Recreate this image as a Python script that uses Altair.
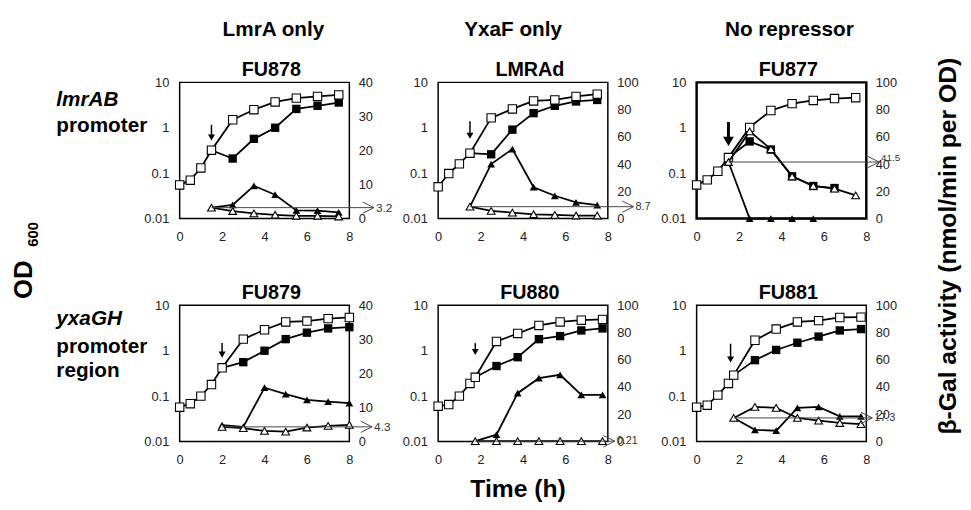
import altair as alt
import pandas as pd

FONT = "Liberation Sans"

# ---------------- labels ----------------
CONDITIONS = ["LmrA only", "YxaF only", "No repressor"]
STRAINS = ["FU878", "LMRAd", "FU877", "FU879", "FU880", "FU881"]
ROW1_LABEL = ["lmrAB", "promoter"]
ROW2_LABEL = ["yxaGH", "promoter", "region"]
X_TICKS = [0, 2, 4, 6, 8]
OD_TICKS = [0.01, 0.1, 1, 10]
GAL_TICKS_40 = [0, 10, 20, 30, 40]
GAL_TICKS_100 = [0, 20, 40, 60, 80, 100]

# ---------------- FU878 ----------------
FU878_T = [0, 0.5, 1, 1.5, 2.5, 3.5, 4.5, 5.5, 6.5, 7.5]
FU878_OD_OPEN = [0.055, 0.07, 0.13, 0.32, 1.5, 2.5, 3.7, 4.5, 4.9, 5.3]
FU878_T_IND = [1.5, 2.5, 3.5, 4.5, 5.5, 6.5, 7.5]
FU878_OD_FILLED = [0.32, 0.21, 0.57, 1.0, 2.6, 3.05, 3.6]
FU878_GAL_FILLED = [3.2, 4.0, 9.6, 7.0, 2.4, 2.3, 1.8]
FU878_GAL_OPEN = [3.2, 2.2, 1.5, 1.1, 0.8, 0.8, 0.6]
FU878_ARROW = [1.5, 1.16, 0.61]
FU878_REF = [1.5, 3.2]

# ---------------- LMRAd ----------------
LMRAD_T = [0, 0.5, 1, 1.5, 2.5, 3.5, 4.5, 5.5, 6.5, 7.5]
LMRAD_OD_OPEN = [0.05, 0.098, 0.16, 0.275, 1.65, 2.6, 3.9, 4.1, 4.9, 5.5]
LMRAD_T_IND = [1.5, 2.5, 3.5, 4.5, 5.5, 6.5, 7.5]
LMRAD_OD_FILLED = [0.275, 0.26, 0.91, 2.1, 3.05, 3.8, 4.1]
LMRAD_GAL_FILLED = [8.7, 40, 51, 23, 16.7, 11.8, 9.9]
LMRAD_GAL_OPEN = [8.7, 5.6, 4.3, 3.1, 2.7, 2.2, 2.2]
LMRAD_ARROW = [1.5, 1.4, 0.67]
LMRAD_REF = [1.5, 8.7]

# ---------------- FU877 ----------------
FU877_T = [0, 0.5, 1, 1.5, 2.5, 3.5, 4.5, 5.5, 6.5, 7.5]
FU877_OD_OPEN = [0.055, 0.071, 0.11, 0.22, 1.02, 2.4, 3.4, 4.0, 4.4, 4.6]
FU877_T_ODF = [1.5, 2.5, 3.5, 4.5, 5.5, 6.5]
FU877_OD_FILLED = [0.22, 0.5, 0.33, 0.085, 0.052, 0.047]
FU877_T_GF = [1.5, 2.5, 3.5, 4.5, 5.5]
FU877_GAL_FILLED = [41.5, 0, 0, 0, 0]
FU877_T_GO = [1.5, 2.5, 3.5, 4.5, 5.5, 6.5, 7.5]
FU877_GAL_OPEN = [41.5, 64, 51, 31, 24, 22, 17]
FU877_ARROW = [1.5, 1.34, 0.5]
FU877_REF = [1.5, 41.5]

# ---------------- FU879 ----------------
FU879_T = [0, 0.5, 1, 1.5, 2, 3, 4, 5, 6, 7, 8]
FU879_OD_OPEN = [0.057, 0.068, 0.10, 0.18, 0.42, 1.8, 2.9, 4.3, 4.5, 5.1, 5.4]
FU879_T_IND = [2, 3, 4, 5, 6, 7, 8]
FU879_OD_FILLED = [0.42, 0.56, 1.0, 1.8, 2.5, 3.1, 3.3]
FU879_GAL_FILLED = [4.8, 4.3, 15.8, 13.9, 12.2, 11.7, 11.3]
FU879_GAL_OPEN = [4.3, 3.9, 3.1, 2.9, 4.1, 4.6, 4.9]
FU879_ARROW = [2, 1.48, 0.82]
FU879_REF = [2, 4.3]

# ---------------- FU880 ----------------
FU880_T = [0, 0.5, 1, 1.5, 1.75, 2.75, 3.75, 4.75, 5.75, 6.75, 7.75]
FU880_OD_OPEN = [0.06, 0.065, 0.10, 0.19, 0.26, 1.6, 2.4, 3.6, 4.3, 4.7, 4.9]
FU880_T_IND = [1.75, 2.75, 3.75, 4.75, 5.75, 6.75, 7.75]
FU880_OD_FILLED = [0.26, 0.46, 0.72, 1.8, 2.1, 2.8, 3.1]
FU880_GAL_FILLED = [0.21, 5, 35.5, 46.5, 49, 34.3, 34.3]
FU880_GAL_OPEN = [0.21, 0.21, 0.21, 0.21, 0.21, 0.21, 0.21]
FU880_ARROW = [1.75, 1.47, 0.94]
FU880_REF = [1.75, 0.21]

# ---------------- FU881 ----------------
FU881_T = [0, 0.5, 1, 1.5, 1.75, 2.75, 3.75, 4.75, 5.75, 6.75, 7.75]
FU881_OD_OPEN = [0.057, 0.063, 0.105, 0.19, 0.29, 1.7, 3.0, 4.3, 4.6, 5.4, 5.5]
FU881_T_IND = [1.75, 2.75, 3.75, 4.75, 5.75, 6.75, 7.75]
FU881_OD_FILLED = [0.29, 0.62, 1.04, 1.5, 2.05, 2.8, 3.0]
FU881_GAL_FILLED = [17.3, 8.6, 7.9, 24.7, 25.4, 18.5, 18.5]
FU881_GAL_OPEN = [17.3, 25.4, 24.7, 17.3, 15.3, 13.6, 12.8]
FU881_ARROW = [1.6, 1.43, 0.64]
FU881_REF = [1.75, 17.3]

# ---------------- style ----------------
W, H = 172, 138
XS = alt.Scale(domain=[0, 8], nice=False, zero=False)
XA = alt.Axis(values=X_TICKS, title=None, labelPadding=12, labelFlush=False, labelOverlap=False)
LOGS = alt.Scale(type="log", domain=[0.01, 10], nice=False)
LOGA = alt.Axis(values=OD_TICKS, format="~g", orient="left", title=None, labelPadding=11,
                labelFlush=False, labelOverlap=False)
LW = 1.8
SQ = 72
TRI = 62


def X(field="t"):
    return alt.X(f"{field}:Q", scale=XS, axis=XA)


def txt(text, x, y, size, weight="bold", style="normal", angle=0, align="center",
        baseline="alphabetic", color="black"):
    return alt.Chart(alt.Data(values=[{"a": 1}])).mark_text(
        text=text, font=FONT, fontSize=size, fontWeight=weight, fontStyle=style,
        angle=angle, align=align, baseline=baseline, color=color
    ).encode(x=alt.value(x), y=alt.value(y))


def panel(t, od_open, t_odf, od_filled, t_gf, gal_filled, t_go, gal_open, gal_ticks,
          arrow, ref, ref_end, extras, heavy=False, ref_size=12, ref_dy=0):
    gmax = gal_ticks[-1]
    GS = alt.Scale(domain=[0, gmax], nice=False, zero=True)
    GA = alt.Axis(values=gal_ticks, orient="right", title=None, labelPadding=9,
                  labelFlush=False, labelOverlap=False)

    od_df = pd.DataFrame({"t": t + t_odf, "v": od_open + od_filled,
                          "s": ["open"] * len(t) + ["filled"] * len(t_odf)})
    ybase = alt.Y("v:Q", scale=LOGS, axis=LOGA)
    base = alt.Chart(od_df).encode(x=X(), y=ybase)
    od_lines = base.mark_line(color="black", strokeWidth=LW).encode(detail="s:N")
    od_filled_pts = base.transform_filter("datum.s == 'filled'").mark_point(
        shape="square", filled=True, color="black", size=SQ, opacity=1)
    od_open_pts = base.transform_filter("datum.s == 'open'").mark_point(
        shape="square", filled=True, fill="white", stroke="black", strokeWidth=1.1,
        size=SQ, opacity=1)

    arrow_df = pd.DataFrame({"t": [arrow[0]], "top": [arrow[1]], "head": [arrow[2]]})
    arrow_rule = alt.Chart(arrow_df).mark_rule(
        color="black", strokeWidth=3 if heavy else 1.5
    ).encode(x=X(), y=alt.Y("top:Q", scale=LOGS, axis=LOGA), y2="head:Q")
    arrow_head = alt.Chart(arrow_df).mark_point(
        shape="triangle-down", filled=True, color="black", size=120 if heavy else 50, opacity=1
    ).encode(x=X(), y=alt.Y("head:Q", scale=LOGS, axis=LOGA))

    left = alt.layer(od_lines, od_filled_pts, od_open_pts, arrow_rule, arrow_head)

    gal_df = pd.DataFrame({"t": t_gf + t_go, "v": gal_filled + gal_open,
                           "s": ["filled"] * len(t_gf) + ["open"] * len(t_go)})
    gbase = alt.Chart(gal_df).encode(x=X(), y=alt.Y("v:Q", scale=GS, axis=GA))
    g_lines = gbase.mark_line(color="black", strokeWidth=LW).encode(detail="s:N")
    g_filled = gbase.transform_filter("datum.s == 'filled'").mark_point(
        shape="triangle-up", filled=True, color="black", size=TRI, opacity=1)
    g_open = gbase.transform_filter("datum.s == 'open'").mark_point(
        shape="triangle-up", filled=True, fill="white", stroke="black", strokeWidth=1.1,
        size=TRI, opacity=1)

    ref_df = pd.DataFrame({"t": [ref[0]], "v": [ref[1]], "lab": [f"{ref[1]:g}"]})
    ref_rule = alt.Chart(ref_df).mark_rule(color="#444", strokeWidth=1).encode(
        x=X(), x2=alt.value(W + ref_end), y=alt.Y("v:Q", scale=GS, axis=GA))
    ref_head = alt.Chart(ref_df).mark_point(
        shape="M-2,-1L0,0L-2,1", filled=False, stroke="#444", strokeWidth=1, size=130, opacity=1
    ).encode(x=alt.value(W + ref_end), y=alt.Y("v:Q", scale=GS, axis=GA))
    ref_lab = alt.Chart(ref_df).mark_text(
        font=FONT, fontSize=ref_size, align="left", baseline="middle", color="#333", dy=ref_dy
    ).encode(x=alt.value(W + ref_end + 2), y=alt.Y("v:Q", scale=GS, axis=GA), text="lab:N")

    right = alt.layer(g_lines, g_filled, g_open, ref_rule, ref_head, ref_lab)

    ch = alt.layer(left, right, *extras).resolve_scale(y="independent").properties(
        width=W, height=H)
    if heavy:
        ch = ch.properties(view=alt.ViewBackground(stroke="black", strokeWidth=2.5))
    return ch


anchor = alt.Chart(alt.Data(values=[{"a": 1}])).mark_rule(opacity=0, color="white").encode(
    x=alt.value(-173), x2=alt.value(-172), y=alt.value(-71))

p1 = panel(FU878_T, FU878_OD_OPEN, FU878_T_IND, FU878_OD_FILLED, FU878_T_IND, FU878_GAL_FILLED,
           FU878_T_IND, FU878_GAL_OPEN, GAL_TICKS_40, FU878_ARROW, FU878_REF, 25,
           [anchor,
            txt(CONDITIONS[0], 95, -47, 21),
            txt(STRAINS[0], 93, -6, 20),
            txt(ROW1_LABEL[0], -125, 24, 21, style="italic", align="left"),
            txt(ROW1_LABEL[1], -125, 50, 21, align="left"),
            txt("OD", -158, 200, 26, angle=270, baseline="middle"),
            txt("600", -149, 154, 15, angle=270, baseline="middle")])

p2 = panel(LMRAD_T, LMRAD_OD_OPEN, LMRAD_T_IND, LMRAD_OD_FILLED, LMRAD_T_IND, LMRAD_GAL_FILLED,
           LMRAD_T_IND, LMRAD_GAL_OPEN, GAL_TICKS_100, LMRAD_ARROW, LMRAD_REF, 26,
           [txt(CONDITIONS[1], 76, -47, 21),
            txt(STRAINS[1], 93, -6, 20)], ref_size=11)

p3 = panel(FU877_T, FU877_OD_OPEN, FU877_T_ODF, FU877_OD_FILLED, FU877_T_GF, FU877_GAL_FILLED,
           FU877_T_GO, FU877_GAL_OPEN, GAL_TICKS_100, FU877_ARROW, FU877_REF, 13,
           [txt(CONDITIONS[2], 94, -47, 21),
            txt(STRAINS[2], 93, -6, 20),
            txt("\u03b2-Gal activity (nmol/min per OD)", 255, 166, 25, angle=270,
                baseline="middle")],
           heavy=True, ref_size=10, ref_dy=-4)

p4 = panel(FU879_T, FU879_OD_OPEN, FU879_T_IND, FU879_OD_FILLED, FU879_T_IND, FU879_GAL_FILLED,
           FU879_T_IND, FU879_GAL_OPEN, GAL_TICKS_40, FU879_ARROW, FU879_REF, 23,
           [txt(STRAINS[3], 93, -6, 20),
            txt(ROW2_LABEL[0], -125, 20, 21, style="italic", align="left"),
            txt(ROW2_LABEL[1], -125, 48, 21, align="left"),
            txt(ROW2_LABEL[2], -125, 73, 21, align="left")])

p5 = panel(FU880_T, FU880_OD_OPEN, FU880_T_IND, FU880_OD_FILLED, FU880_T_IND, FU880_GAL_FILLED,
           FU880_T_IND, FU880_GAL_OPEN, GAL_TICKS_100, FU880_ARROW, FU880_REF, 7,
           [txt(STRAINS[4], 93, -6, 20),
            txt("Time (h)", 81, 194, 25)], ref_size=11)

p6 = panel(FU881_T, FU881_OD_OPEN, FU881_T_IND, FU881_OD_FILLED, FU881_T_IND, FU881_GAL_FILLED,
           FU881_T_IND, FU881_GAL_OPEN, GAL_TICKS_100, FU881_ARROW, FU881_REF, 6,
           [txt(STRAINS[5], 93, -6, 20)], ref_size=11)

chart = alt.ConcatChart(
    concat=[p1, p2, p3, p4, p5, p6], columns=3,
    spacing={"row": 88, "column": 90}, bounds="flush"
).properties(padding=0).configure_view(
    stroke="black", strokeWidth=1.5
).configure_axis(
    domain=False, ticks=False, grid=False, labelFont=FONT, labelFontSize=13,
    labelColor="#222"
)

chart.save("out.html", embed_options={"renderer": "svg", "actions": False})
